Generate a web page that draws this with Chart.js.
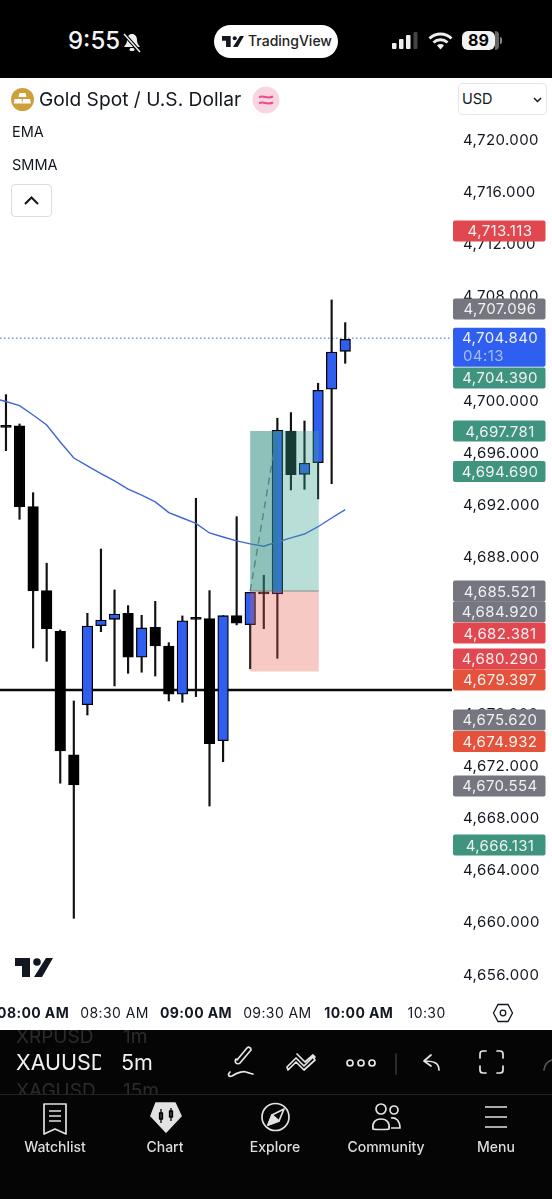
<!DOCTYPE html>
<html><head><meta charset="utf-8">
<script src="https://cdn.jsdelivr.net/npm/chart.js@4/dist/chart.umd.js"></script>
<style>
html,body{margin:0;padding:0;background:#fff;width:552px;height:1199px;overflow:hidden;font-family:Inter,"Noto Sans",sans-serif}
.a{position:absolute;white-space:nowrap;line-height:1}
#c{position:absolute;left:0;top:78px}
svg{position:absolute;overflow:visible}
</style></head><body>
<div class="a" style="left:0;top:0;width:552px;height:78px;background:#000"></div>
<div class="a" style="left:68px;top:29px;color:#f4f4f4;font-size:24px;font-weight:500">9:55</div>
<svg style="left:123px;top:33px" width="18" height="20" viewBox="0 0 18 20"><path d="M9 1c-3 0-5 2.500-5 6 0 4-2 5-3 7h16c-1-2-3-3-3-7 0-3.500-2-6-5-6z" fill="#eee"/><rect x="6.500" y="15" width="5" height="3" rx="1.500" fill="#eee"/><path d="M1 1l16 18" stroke="#000" stroke-width="3.500"/><path d="M1 1l16 18" stroke="#eee" stroke-width="1.500"/></svg>
<div class="a" style="left:214px;top:25px;width:124px;height:32.500px;border-radius:17px;background:#fff"></div>
<svg style="left:222px;top:36px" width="22" height="11" viewBox="0 0 38 19"><path d="M0 0h15v19H7V8H0zM31 0h7L27 19h-8z" fill="#131722"/><circle cx="22" cy="4" r="3.500" fill="#131722"/></svg>
<div class="a" style="left:248px;top:34px;font-size:14px;font-weight:500;color:#222">TradingView</div>
<svg style="left:392px;top:32px" width="26" height="18"><rect x="0" y="11" width="4.500" height="6" rx="1" fill="#eee"/><rect x="7" y="7" width="4.500" height="10" rx="1" fill="#eee"/><rect x="14" y="3" width="4.500" height="14" rx="1" fill="#eee"/><rect x="21.500" y="0" width="4" height="17" rx="1" fill="#444"/></svg>
<svg style="left:428px;top:32px" width="25" height="18" viewBox="0 0 25 18"><path d="M1.500 6.500a16 16 0 0 1 22 0M5.500 10.500a10.500 10.500 0 0 1 14 0" fill="none" stroke="#eee" stroke-width="3"/><path d="M9 13.500a5 5 0 0 1 7 0L12.500 17.500z" fill="#eee"/></svg>
<div class="a" style="left:462px;top:31px;width:33px;height:19px;border-radius:6px;background:#f2f2f2;color:#000;font-size:16px;font-weight:700;text-align:center;line-height:19px">89</div>
<div class="a" style="left:495px;top:31px;width:4px;height:19px;border-radius:0 6px 6px 0;background:#666"></div>
<div class="a" style="left:499.500px;top:37px;width:2px;height:7px;border-radius:0 2px 2px 0;background:#888"></div>

<canvas id="c" width="552" height="952"></canvas>

<svg style="left:15px;top:958px" width="38" height="19" viewBox="0 0 38 19"><path d="M0 0h15v19H7V8H0zM31 0h7L27 19h-8z" fill="#131722"/><circle cx="22" cy="4" r="3.800" fill="#131722"/></svg>

<svg style="left:11px;top:88px" width="23" height="23" viewBox="0 0 23 23"><circle cx="11.500" cy="11.500" r="11.500" fill="#cf9f3c"/><path d="M8.500 5h6l1 4h-8zM3.500 11h7l.8 4.500H2.800zM12 11h7l.8 4.500h-8.600z" fill="#fff"/></svg>
<div class="a" style="left:39px;top:89.500px;font-size:19.200px;color:#131722">Gold Spot / U.S. Dollar</div>
<svg style="left:251.500px;top:85.500px" width="28" height="28" viewBox="0 0 28 28"><circle cx="14" cy="14" r="13.500" fill="#f9d5e1"/><path d="M7 11.500c4-3 8 2 14-1M7 17.500c4-3 8 2 14-1" fill="none" stroke="#ea4c89" stroke-width="2"/></svg>
<div class="a" style="left:12px;top:125px;font-size:14.500px;color:#131722">EMA</div>
<div class="a" style="left:12px;top:158px;font-size:14.500px;color:#131722">SMMA</div>
<div class="a" style="left:11px;top:184px;width:39px;height:31px;border:1.500px solid #dcdde0;border-radius:4px;background:#fff"></div>
<svg style="left:23px;top:195px" width="17" height="12"><path d="M2 9L8.500 2.500L15 9" fill="none" stroke="#131722" stroke-width="2"/></svg>
<div class="a" style="left:458px;top:83px;width:87px;height:30px;border:1px solid #e4e5e8;border-radius:4px;background:#fff"></div>
<div class="a" style="left:462px;top:92px;font-size:14.500px;color:#131722">USD</div>
<svg style="left:532px;top:96px" width="12" height="8"><path d="M2 2L5.500 5.500L9 2" fill="none" stroke="#131722" stroke-width="1.500"/></svg>
<svg style="left:493px;top:1002px" width="20" height="22" viewBox="0 0 20 22"><path d="M5 2.500h10L19.500 11 15 19.500H5L.5 11z" fill="none" stroke="#131722" stroke-width="1.300"/><circle cx="10" cy="11" r="2.800" fill="none" stroke="#131722" stroke-width="1.300"/></svg>

<div class="a" style="left:0;top:1030px;width:552px;height:169px;background:#050505;overflow:hidden"></div>
<div class="a" style="left:16px;top:1030px;font-size:19px;color:#2c2c2c;height:14px;overflow:hidden;line-height:14px">XRPUSD</div>
<div class="a" style="left:123px;top:1030px;font-size:19px;color:#2c2c2c;height:14px;overflow:hidden;line-height:14px">1m</div>
<div class="a" style="left:16px;top:1052px;font-size:21.500px;color:#f0f0f0;width:85px;overflow:hidden;-webkit-mask-image:linear-gradient(90deg,#000 80%,#333 100%)">XAUUSD</div>
<div class="a" style="left:121px;top:1052px;font-size:21.500px;color:#f0f0f0">5m</div>
<div class="a" style="left:16px;top:1082px;font-size:19px;color:#2c2c2c;height:12px;overflow:hidden;line-height:17px">XAGUSD</div>
<div class="a" style="left:123px;top:1082px;font-size:19px;color:#2c2c2c;height:12px;overflow:hidden;line-height:17px">15m</div>
<svg style="left:0;top:1030px" width="552" height="169" fill="none" stroke="#e6e6e6" stroke-width="1.700" stroke-linecap="round" stroke-linejoin="round">
<path d="M237 30L247 18c2-2 4 0 4 2l-11 13c-1 1-3 1-4 0-1-1-1-3 0-4zM230 42c-3 3-1 5 2 4 6-4 12-5 14-4 3 1 6 2 7 2" />
<path d="M287 37l9-9 8 8 9-9 2 3-11 10-8-8-8 8zM297 24l8 8 8-7 2 2" />
<circle cx="350" cy="33" r="3"/><circle cx="361" cy="33" r="3"/><circle cx="372" cy="33" r="3"/>
<path d="M396 24v20" stroke="#333"/>
<path d="M431 25l-7 6 7 5M424 31c8 0 15 1 15 9"/>
<path d="M480 28v-4c0-2 1-3 3-3h3M503 28v-4c0-2-1-3-3-3h-3M480 36v4c0 2 1 3 3 3h3M503 36v4c0 2-1 3-3 3h-3"/>
<path d="M544 40c1-7 4-9 8-10" stroke="#555"/>
</svg>
<div class="a" style="left:0;top:1094px;width:552px;height:1px;background:#232323"></div>
<svg style="left:0;top:1100px" width="552" height="40" fill="none" stroke="#e2e2e2" stroke-width="1.700" stroke-linejoin="round">
<path d="M44 4h22v30l-11-5-11 5zM49 11h12M49 16h12M49 21h12"/>
<path d="M156 3h19l6 13-15 16-15-16z" fill="#e2e2e2"/>
<path d="M161 9v14M159.500 13h3v6h-3zM171 8v13M169.500 11h3v6h-3z" stroke="#000" stroke-width="1.300"/>
<circle cx="275.500" cy="17" r="13.500"/><path d="M268 25l4-10 12-6-5 12z"/><path d="M268 25l4-10 7 6z" fill="#e2e2e2"/>
<circle cx="381" cy="9" r="5"/><circle cx="394" cy="10" r="4"/><path d="M373 29c-1-6 2-10 8-10s9 4 8 10c0 0-1 .5-8 .5s-8-.5-8-.5zM391 18c5-1 9 3 9 10h-9"/>
<path d="M485 7h22M485 17h22M485 27h22"/>
</svg>
<div class="a" style="left:0;top:1139.500px;width:110px;text-align:center;font-size:14px;font-weight:500;color:#dcdcdc">Watchlist</div>
<div class="a" style="left:110px;top:1139.500px;width:110px;text-align:center;font-size:14px;font-weight:500;color:#dcdcdc">Chart</div>
<div class="a" style="left:220px;top:1139.500px;width:110px;text-align:center;font-size:14px;font-weight:500;color:#dcdcdc">Explore</div>
<div class="a" style="left:331px;top:1139.500px;width:110px;text-align:center;font-size:14px;font-weight:500;color:#dcdcdc">Community</div>
<div class="a" style="left:441px;top:1139.500px;width:110px;text-align:center;font-size:14px;font-weight:500;color:#dcdcdc">Menu</div>

<script>
// candle index 0..25, 5-minute bars
const opens  = [4698.05,4698.11,4691.92,4685.48,4682.36,4672.88,4676.73,4682.79,4683.28,4683.74,4680.37,4682.67,4681.23,4677.53,4683.38,4683.33,4673.97,4683.56,4682.87,4685.38,4685.22,4697.72,4694.40,4695.29,4700.92,4703.83];
const closes = [4698.00,4691.92,4685.45,4682.56,4673.18,4670.58,4682.77,4683.23,4683.69,4680.37,4682.62,4681.23,4677.53,4683.17,4683.28,4673.74,4683.56,4682.98,4685.35,4685.22,4697.78,4694.37,4695.25,4700.84,4703.78,4704.75];
const highs  = [4700.51,4698.26,4692.99,4687.58,4682.46,4677.02,4683.74,4688.67,4685.53,4684.33,4683.59,4684.66,4681.49,4683.54,4692.56,4685.48,4683.56,4691.15,4685.35,4686.66,4698.70,4699.13,4698.49,4701.38,4707.77,4706.03];
const lows   = [4696.21,4690.95,4681.08,4680.06,4670.71,4660.35,4675.94,4682.33,4678.17,4679.14,4679.22,4678.93,4677.02,4676.92,4677.35,4668.96,4672.36,4682.85,4679.49,4682.56,4680.29,4693.20,4693.25,4692.51,4693.68,4702.91];
const emaStart = [-0.44,4700.10];
const ema    = [4699.98,4699.66,4698.95,4698.18,4696.88,4695.65,4695.04,4694.46,4693.89,4693.27,4692.81,4692.28,4691.46,4691.05,4690.64,4689.90,4689.59,4689.29,4689.06,4688.88,4689.21,4689.52,4689.82,4690.38,4691.05,4691.69];
const xTickIndex  = [2,8,14,20,26,31];
const xTickLabels = ['08:00 AM','08:30 AM','09:00 AM','09:30 AM','10:00 AM','10:30'];
const xTickBold   = [true,false,true,false,true,false];
const yTickTop = 4720;
const levelPrice = 4677.86;
const lastPrice  = 4704.84;
const posEntry = 4685.45, posTarget = 4697.72, posStop = 4679.28;
const posFrom = 18, posMid = 20, posTo = 23.05;
// price tags: shown text, anchor on the price scale, colour
const tagText   = ['4,713.113','4,707.096','4,704.390','4,697.781','4,694.690','4,685.521','4,684.920','4,682.381','4,680.290','4,679.397','4,675.620','4,674.932','4,670.554','4,666.131'];
const tagAnchor = [4713.06,4707.08,4701.79,4697.72,4694.62,4685.45,4683.86,4682.23,4680.24,4678.63,4675.56,4673.91,4670.50,4665.97];
const tagColor  = ['#e0474f','#75767f','#3f947f','#3f947f','#3f947f','#75767f','#75767f','#e0474f','#e0474f','#e4523b','#75767f','#e4523b','#75767f','#3f947f'];
const liveTag = ['4,704.840','04:13'];

const UP='#2f5ff0', DOWN='#000000';
const idx = opens.map((_,i)=>i);
const bodyColors = opens.map((o,i)=> closes[i]>o ? UP : DOWN);

const overlay = {
  id:'overlay',
  beforeDraw(chart){ chart.ctx.letterSpacing='0.4px'; },
  afterDatasetsDraw(chart){
    const {ctx,scales:{x,y}}=chart;
    const X=v=>x.getPixelForValue(v),Y=v=>y.getPixelForValue(v);
    ctx.save();
    ctx.fillStyle='rgba(60,160,145,0.36)';
    ctx.fillRect(X(posFrom),Y(posTarget),X(posTo)-X(posFrom),Y(posEntry)-Y(posTarget));
    ctx.fillStyle='rgba(40,130,118,0.30)';
    ctx.fillRect(X(posFrom),Y(posTarget),X(posMid)-X(posFrom),Y(posEntry)-Y(posTarget));
    ctx.fillStyle='rgba(228,90,75,0.33)';
    ctx.fillRect(X(posFrom),Y(posEntry),X(posTo)-X(posFrom),Y(posStop)-Y(posEntry));
    ctx.fillStyle='rgba(90,120,115,0.7)';
    ctx.fillRect(X(posFrom),Y(posEntry)-0.5,X(posTo)-X(posFrom),1);
    ctx.restore();
  },
  afterDraw(chart){
    const {ctx,scales:{y}}=chart;
    ctx.save();
    ctx.font='15px Inter';ctx.textAlign='center';ctx.textBaseline='middle';
    const bx=453,bw=92.5,tx=500;
    tagText.forEach((t,i)=>{
      const py=y.getPixelForValue(tagAnchor[i]);
      if(i===2){ // live price tag sits just above this one
        const ly=y.getPixelForValue(lastPrice);
        ctx.fillStyle='#2f5ff0';
        ctx.beginPath();ctx.roundRect(bx,ly-10.5,bw,39,2);ctx.fill();
        ctx.fillStyle='#eef1fb';ctx.fillText(liveTag[0],tx,ly);
        ctx.fillStyle='#a9bdf6';ctx.textAlign='left';ctx.fillText(liveTag[1],463,ly+18);ctx.textAlign='center';
      }
      ctx.fillStyle=tagColor[i];
      ctx.beginPath();ctx.roundRect(bx,py-10.5,bw,21,2);ctx.fill();
      ctx.fillStyle='#f1f1f1';ctx.fillText(t,tx,py+1);
    });
    ctx.restore();
  }
};

new Chart(document.getElementById('c'),{
  type:'bar',
  data:{datasets:[
    {type:'line',order:6,data:[{x:-0.44,y:levelPrice},{x:32.87,y:levelPrice}],borderColor:'#0a0a0a',borderWidth:2.5,pointRadius:0},
    {type:'line',order:6,data:[{x:-0.44,y:lastPrice},{x:32.87,y:lastPrice}],borderColor:'#3a5fe0',borderWidth:1,borderDash:[1.5,2.5],pointRadius:0},
    {type:'bar',order:4,grouped:false,data:idx.map(i=>({x:i,y:[lows[i],highs[i]]})),backgroundColor:'#111',barThickness:1.5},
    {type:'bar',order:3,grouped:false,data:idx.map(i=>({x:i,y:[opens[i],closes[i]]})),backgroundColor:bodyColors,borderColor:'#000',borderWidth:1.3,borderSkipped:false,barThickness:10.6,minBarLength:2},
    {type:'line',order:2,data:[{x:emaStart[0],y:emaStart[1]}].concat(idx.map(i=>({x:i,y:ema[i]}))),borderColor:'#3d66d8',borderWidth:1.4,pointRadius:0,tension:0},
    {type:'line',order:1,data:[{x:posFrom,y:posEntry},{x:posMid,y:posTarget}],borderColor:'rgba(95,115,115,0.85)',borderWidth:1.5,borderDash:[7,5],pointRadius:0}
  ]},
  plugins:[overlay],
  options:{
    responsive:false,animation:false,
    layout:{padding:0},
    plugins:{legend:{display:false},tooltip:{enabled:false}},
    scales:{
      x:{type:'linear',offset:false,min:-0.44,max:32.87,
        grid:{display:false,drawTicks:false},border:{display:false},
        afterBuildTicks(s){s.ticks=xTickIndex.map(v=>({value:v}));},
        afterFit(s){s.height=35;s.paddingLeft=0;s.paddingRight=0;},
        ticks:{autoSkip:false,maxRotation:0,minRotation:0,padding:10,color:'#131722',
          callback:v=>xTickLabels[xTickIndex.indexOf(v)],
          font:c=>({family:'Inter',size:14,weight:(c.tick&&xTickBold[xTickIndex.indexOf(c.tick.value)])?'700':'400'})}
      },
      y:{type:'linear',position:'right',min:4654.47,max:4724.79,
        grid:{display:false,drawTicks:false},border:{display:false},
        afterBuildTicks(s){s.ticks=s.ticks.filter(t=>t.value<=yTickTop);},
        afterFit(s){s.width=100;s.paddingTop=0;s.paddingBottom=0;},
        ticks:{stepSize:4,includeBounds:false,padding:11,color:'#131722',font:{family:'Inter',size:15},
          callback:v=>v.toLocaleString('en-US',{minimumFractionDigits:3,maximumFractionDigits:3})}
      }
    }
  }
});
</script>
</body></html>
